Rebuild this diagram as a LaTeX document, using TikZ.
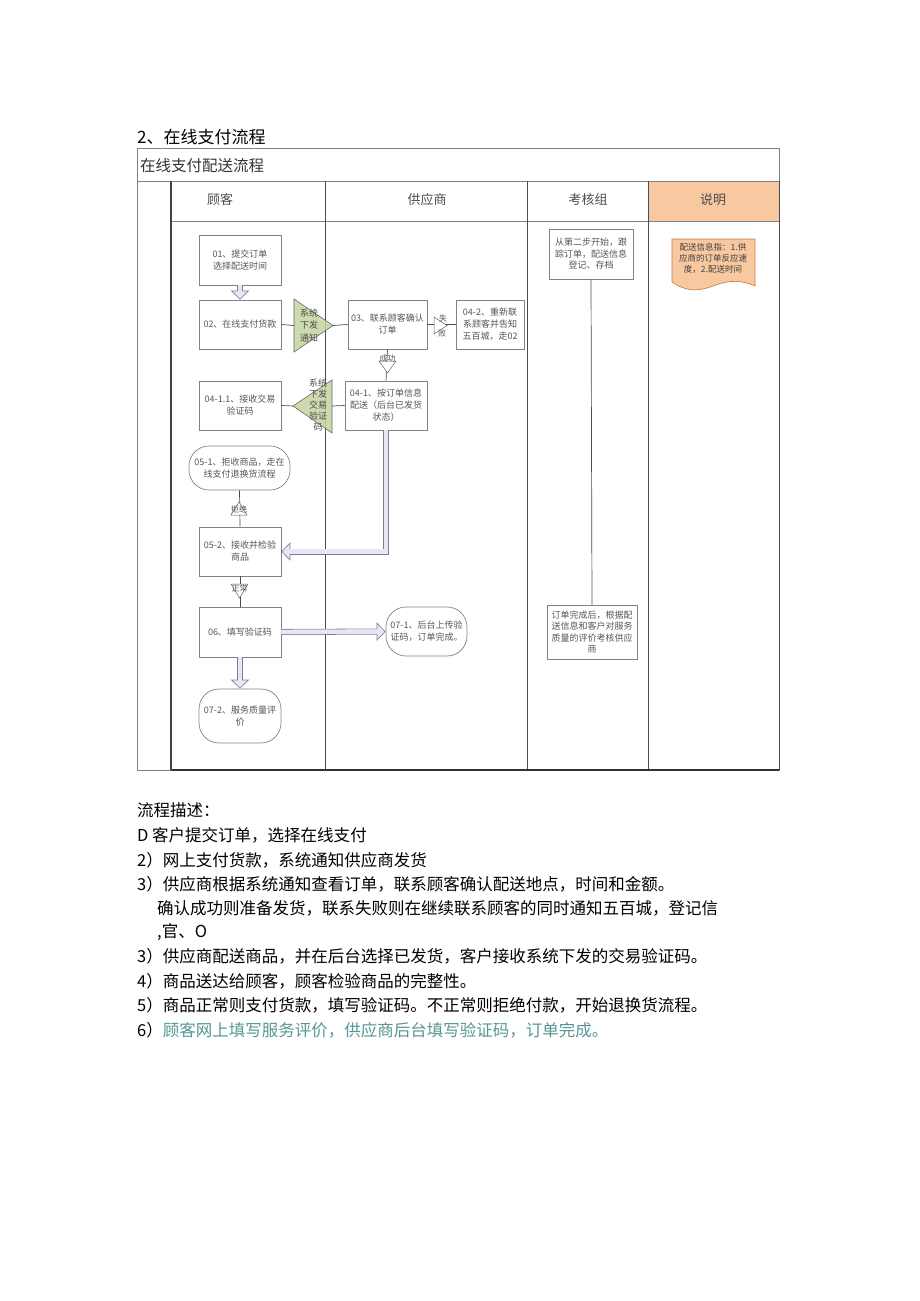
\documentclass[tikz,border=0pt]{standalone}
\usepackage{fontspec}
\setmainfont{Noto Sans CJK SC}
\usetikzlibrary{arrows.meta,calc}
\definecolor{hdr}{RGB}{248,200,160}
\definecolor{docedge}{RGB}{205,120,60}
\definecolor{trigreen}{RGB}{196,212,160}
\definecolor{tealsix}{RGB}{86,150,150}
\definecolor{linegray}{RGB}{130,130,130}
\definecolor{boxtext}{RGB}{85,85,85}
\definecolor{hollowin}{RGB}{230,230,246}
\definecolor{hollowout}{RGB}{125,125,145}
\tikzset{
 box/.style={draw=linegray, line width=0.7pt, align=center, font=\fontsize{9}{12}\selectfont, text=boxtext, inner sep=1pt},
 stad/.style={box, rounded corners=20pt},
 conn/.style={draw=black!70, line width=0.7pt},
 hollow/.style={draw=hollowout, line width=6pt, -{Triangle[length=9pt,width=18pt]},
   postaction={draw=hollowin, line width=4.4pt, shorten >=1.15pt, -{Triangle[length=7.05pt,width=14.1pt]}},
   postaction={draw=hollowin, line width=4.4pt, shorten >=5pt, -}},
 greentri/.style={draw=black!60, fill=trigreen, fill opacity=0.85, line width=0.6pt},
 smalltri/.style={draw=black!60, fill=white, line width=0.5pt},
 slabel/.style={font=\fontsize{8}{8}\selectfont, text=boxtext, inner sep=0pt},
 hdrtext/.style={font=\fontsize{13}{13}\selectfont, text=black!70},
 desc/.style={anchor=base west, inner sep=0pt, font=\fontsize{16.5}{16.5}\selectfont},
}
\begin{document}
\begin{tikzpicture}[x=1pt,y=-1pt]
\useasboundingbox (0,0) rectangle (920,1301);
% titles
\node[anchor=base west, inner sep=0pt, font=\fontsize{17}{17}\selectfont] (title) at (137,143) {2、在线支付流程};
% table
\fill[hdr] (648,181) rectangle (779,221);
\draw[linegray, line width=0.6pt] (137,148) rectangle (779,770);
\draw[linegray, line width=0.6pt] (137,181) -- (779,181);
\draw[linegray, line width=0.6pt] (171,221) -- (779,221);
\draw[black!75, line width=1.1pt] (171,181) -- (171,770);
\draw[black!70, line width=0.8pt] (325,181) -- (325,770);
\draw[black!70, line width=0.8pt] (527,181) -- (527,770);
\draw[black!70, line width=0.8pt] (648,181) -- (648,770);
\draw[black!70, line width=0.8pt] (779,181) -- (779,770);
\draw[black!80, line width=1.2pt] (171,770) -- (779,770);
\node[anchor=base west, inner sep=0pt, font=\fontsize{15.5}{15.5}\selectfont, text=black!80] (rowtitle) at (140,171) {在线支付配送流程};
\node[hdrtext] (h1) at (220,200) {顾客};
\node[hdrtext] (h2) at (427,200) {供应商};
\node[hdrtext] (h3) at (588,200) {考核组};
\node[hdrtext] (h4) at (713,200) {说明};

% green triangles
\draw[greentri] (294,299) -- (333,325.5) -- (294,352) -- cycle;
\coordinate (t1b) at (294,325.5);
\coordinate (t1a) at (333,325.5);
\node[font=\fontsize{9}{12.5}\selectfont, align=center, text=black!70, inner sep=0pt] (t1txt) at (309,325.5) {系统\\下发\\通知};
\draw[greentri] (332,380) -- (293,406) -- (332,433) -- cycle;
\coordinate (t2b) at (332,406);
\coordinate (t2a) at (293,406);
\node[font=\fontsize{9}{11}\selectfont, align=center, text=black!70, inner sep=0pt] (t2txt) at (318,405) {系统\\下发\\交易\\验证\\码};

% customer column
\node[box, minimum width=82pt, minimum height=50pt] (n01) at (240,260) {01、提交订单\\选择配送时间};
\node[box, minimum width=82pt, minimum height=49pt] (n02) at (240,324.5) {02、在线支付货款};
\node[box, minimum width=82pt, minimum height=49pt] (n0411) at (240,405.5) {04-1.1、接收交易\\验证码};
\node[stad, minimum width=101pt, minimum height=44pt] (n051) at (239.5,468) {05-1、拒收商品，走在\\线支付退换货流程};
\node[box, minimum width=82pt, minimum height=49pt] (n052) at (240,551.5) {05-2、接收并检验\\商品};
\node[box, minimum width=82pt, minimum height=50pt] (n06) at (240,632) {06、填写验证码};
\node[stad, minimum width=82pt, minimum height=54pt] (n072) at (240,716) {07-2、服务质量评\\价};
% supplier column
\node[box, minimum width=79pt, minimum height=49pt] (n03) at (387.5,324.5) {03、联系顾客确认\\订单};
\node[box, minimum width=68pt, minimum height=49pt] (n042) at (490,324.5) {04-2、重新联\\系顾客并告知\\五百城，走02};
\node[box, minimum width=82pt, minimum height=49pt] (n041) at (386,405.5) {04-1、按订单信息\\配送（后台已发货\\状态）};
\node[stad, minimum width=81pt, minimum height=49pt] (n071) at (426.5,631.5) {07-1、后台上传验\\证码，订单完成。};
% audit column
\node[box, minimum width=84pt, minimum height=50pt, font=\fontsize{9}{11.5}\selectfont] (k1) at (591,254) {从第二步开始，跟\\踪订单，配送信息\\登记、存档};
\node[box, minimum width=90pt, minimum height=54pt, font=\fontsize{9}{11.5}\selectfont] (k2) at (592,632) {订单完成后，根据配\\送信息和客户对服务\\质量的评价考核供应\\商};
\draw[conn] (k1.south) -- (k2.north);
% note column
\draw[draw=docedge, fill=hdr, line width=0.6pt] (672,239) -- (755,239) -- (755,286)
  .. controls (742,280) and (730,280) .. (716,285)
  .. controls (700,291) and (688,293) .. (672,282) -- cycle;
\node[font=\fontsize{8.5}{11}\selectfont, align=center, text=black!75, inner sep=0pt] (doc) at (713,258) {配送信息指：1.供\\应商的订单反应速\\度，2.配送时间};

% connectors
\draw[hollow] (n01.south) -- (n02.north);
\draw[conn] (n02.east) -- (t1b);
\draw[conn] (t1a) -- (n03.west);
\draw[conn] (n03.east) -- (n042.west);
\draw[smalltri] (434,317) -- (447,325.5) -- (434,334) -- cycle;
\node[slabel] (lfail1) at (443,318) {失};
\node[slabel] (lfail2) at (442,333) {败};
\draw[conn] (n03.south) -- (n041.north);
\draw[smalltri] (379,361) -- (396,361) -- (387.5,373) -- cycle;
\node[slabel] (lsucc) at (387.5,358) {成功};
\draw[conn] (n041.west) -- (t2b);
\draw[conn] (t2a) -- (n0411.east);
\draw[hollow] (n041.south) |- (n052.east);
\draw[conn] (n052.north) -- (n051.south);
\draw[smalltri] (231,515) -- (247,515) -- (239,502) -- cycle;
\node[slabel] (lrej) at (239,509) {拒绝};
\draw[conn] (n052.south) -- (n06.north);
\draw[smalltri] (231,584) -- (248,584) -- (239.5,598) -- cycle;
\node[slabel] (lok) at (239.5,588) {正常};
\draw[hollow] (n06.east) -- (n071.west);
\draw[hollow] (n06.south) -- (n072.north);

% description
\node[desc] (d0) at (137,816) {流程描述：};
\node[desc] (d1) at (137,841) {D 客户提交订单，选择在线支付};
\node[desc] (d2) at (137,866) {2）网上支付货款，系统通知供应商发货};
\node[desc] (d3) at (137,890) {3）供应商根据系统通知查看订单，联系顾客确认配送地点，时间和金额。};
\node[desc] (d3b) at (157,914) {确认成功则准备发货，联系失败则在继续联系顾客的同时通知五百城，登记信};
\node[desc] (d3c) at (157,937) {,官、O};
\node[desc] (d4) at (137,962) {3）供应商配送商品，并在后台选择已发货，客户接收系统下发的交易验证码。};
\node[desc] (d5) at (137,987) {4）商品送达给顾客，顾客检验商品的完整性。};
\node[desc] (d6) at (137,1011) {5）商品正常则支付货款，填写验证码。不正常则拒绝付款，开始退换货流程。};
\node[desc] (d7) at (137,1036) {6）\textcolor{tealsix}{顾客网上填写服务评价，供应商后台填写验证码，订单完成。}};
\end{tikzpicture}
\end{document}
